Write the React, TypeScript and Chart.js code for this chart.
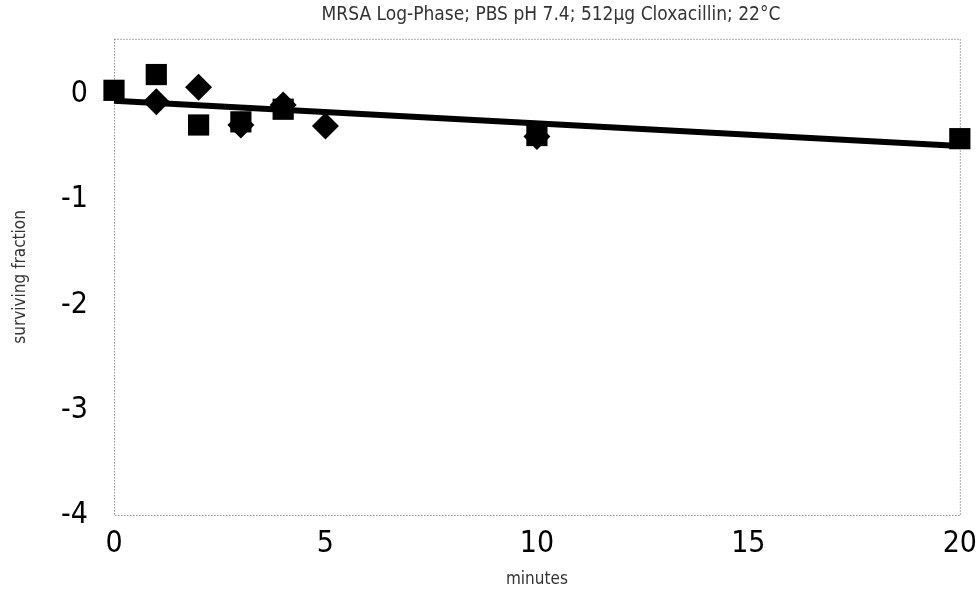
import React, { useEffect, useRef } from "react";
import { Chart, registerables } from "chart.js";

Chart.register(...registerables);

const titleText = "MRSA Log-Phase; PBS pH 7.4; 512µg Cloxacillin; 22°C";
const xTitle = "minutes";
const yTitle = "surviving fraction";

const squareMinutes = [0, 1, 2, 3, 4, 10, 20];
const squareValues = [0.04, 0.19, -0.29, -0.26, -0.14, -0.39, -0.42];

const diamondMinutes = [1, 2, 3, 4, 5, 10];
const diamondValues = [-0.07, 0.07, -0.29, -0.1, -0.3, -0.4];

const fitMinutes = [0, 20];
const fitValues = [-0.06, -0.49];

const xTicks = [0, 5, 10, 15, 20];
const yTicks = [0, -1, -2, -3, -4];

const toPoints = (xs: number[], ys: number[]) => xs.map((x, i) => ({ x, y: ys[i] }));

const FONT = "'Liberation Sans Narrow', 'DejaVu Sans Condensed', 'Liberation Sans', Arial, sans-serif";

const frame = {
  id: "dottedFrame",
  afterLayout(chart: any) {
    if (chart.titleBlock) {
      chart.titleBlock.left = 140;
    }
  },
  beforeDatasetsDraw(chart: any) {
    const { ctx, chartArea } = chart;
    ctx.save();
    ctx.strokeStyle = "#555";
    ctx.lineWidth = 1;
    ctx.setLineDash([1, 2]);
    ctx.strokeRect(chartArea.left + 0.5, chartArea.top + 0.5, chartArea.right - chartArea.left, chartArea.bottom - chartArea.top);
    ctx.restore();
  },
};

export default function App() {
  const ref = useRef<HTMLCanvasElement>(null);
  useEffect(() => {
    if (!ref.current) return;
    const chart = new Chart(ref.current, {
      type: "scatter",
      data: {
        datasets: [
          {
            label: "fit",
            data: toPoints(fitMinutes, fitValues),
            showLine: true,
            borderColor: "#000",
            borderWidth: 6,
            pointRadius: 0,
            clip: false,
            order: 3,
          } as any,
          {
            label: "squares",
            data: toPoints(squareMinutes, squareValues),
            pointStyle: "rect",
            pointRadius: 15,
            backgroundColor: "#000",
            borderColor: "#000",
            borderWidth: 0,
            clip: false,
            order: 2,
          },
          {
            label: "diamonds",
            data: toPoints(diamondMinutes, diamondValues),
            pointStyle: "rectRot",
            pointRadius: 13.5,
            backgroundColor: "#000",
            borderColor: "#000",
            borderWidth: 0,
            clip: false,
            order: 1,
          },
        ],
      },
      options: {
        animation: false,
        responsive: false,
        maintainAspectRatio: false,
        layout: { padding: { left: 0, right: 18, top: 0, bottom: 0 } },
        plugins: {
          legend: { display: false },
          tooltip: { enabled: false },
          title: {
            display: true,
            text: titleText,
            color: "#333",
            font: { family: FONT, size: 19, weight: "normal" },
            padding: { top: 4, bottom: 12 },
          },
        },
        scales: {
          x: {
            type: "linear",
            min: 0,
            max: 20,
            grid: { display: false },
            border: { display: false },
            afterBuildTicks: (s: any) => {
              s.ticks = xTicks.map((v) => ({ value: v }));
            },
            afterFit: (s: any) => {
              s.height = 75;
            },
            ticks: {
              color: "#000",
              font: { family: FONT, size: 30 },
              padding: 3,
              maxRotation: 0,
            },
            title: {
              display: true,
              text: xTitle,
              color: "#333",
              font: { family: FONT, size: 17 },
              padding: { top: 8, bottom: 0 },
            },
          },
          y: {
            type: "linear",
            min: -4,
            max: 0.53,
            grid: { display: false },
            border: { display: false },
            afterBuildTicks: (s: any) => {
              s.ticks = yTicks.map((v) => ({ value: v }));
            },
            afterFit: (s: any) => {
              s.width = 114;
            },
            ticks: {
              color: "#000",
              font: { family: FONT, size: 30 },
              padding: 18,
            },
            title: {
              display: true,
              text: yTitle,
              color: "#333",
              font: { family: FONT, size: 17 },
              padding: { top: 10, bottom: 0 },
            },
          },
        },
      },
      plugins: [frame],
    } as any);
    return () => chart.destroy();
  }, []);
  return (
    <div style={{ position: "fixed", left: 0, top: 0, width: 980, height: 590, background: "#fff" }}>
      <canvas ref={ref} width={980} height={590} style={{ display: "block" }} />
    </div>
  );
}
